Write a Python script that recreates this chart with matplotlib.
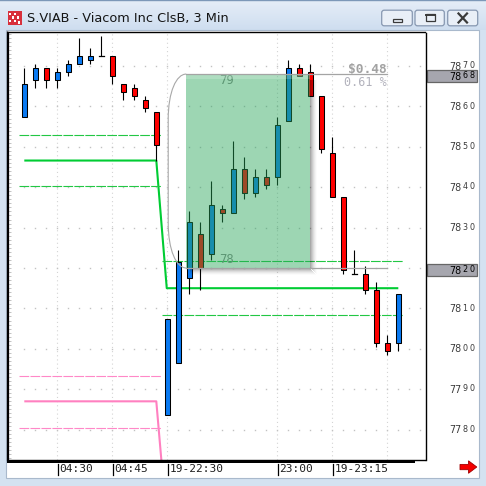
import matplotlib
matplotlib.use("Agg")
import matplotlib.pyplot as plt
import matplotlib.transforms as mtransforms
from matplotlib.patches import Rectangle, FancyBboxPatch, Polygon, PathPatch
from matplotlib.path import Path
import numpy as np

plt.rcParams["lines.scale_dashes"] = False

# ---------------------------------------------------------------- data
title = "S.VIAB - Viacom Inc ClsB, 3 Min"

# 3-minute bars (prices in cents)
opens  = [7857.5, 7866.5, 7869.5, 7866.5, 7868.5, 7870.5, 7871.5, 7872.5, 7872.5, 7865.5,
          7864.5, 7861.5, 7858.5, 7783.5, 7796.5, 7817.5, 7828.5, 7823.5, 7834.5, 7833.5,
          7844.5, 7838.5, 7842.5, 7842.5, 7856.5, 7869.5, 7868.5, 7862.5, 7848.5, 7837.5,
          7818.5, 7818.5, 7814.5, 7801.5, 7801.5]
highs  = [7869.5, 7870.5, 7869.5, 7869.5, 7871.5, 7877.0, 7874.5, 7877.5, 7872.5, 7865.5,
          7865.5, 7862.5, 7858.5, 7807.5, 7824.5, 7834.0, 7831.5, 7841.5, 7835.5, 7851.5,
          7847.5, 7844.5, 7844.5, 7857.5, 7871.5, 7870.5, 7870.5, 7862.5, 7852.5, 7837.5,
          7824.5, 7820.5, 7816.5, 7803.5, 7813.5]
lows   = [7857.5, 7864.5, 7864.5, 7864.5, 7867.5, 7870.5, 7870.5, 7872.5, 7865.5, 7861.5,
          7861.5, 7858.5, 7846.5, 7783.5, 7796.5, 7813.5, 7814.5, 7822.0, 7831.5, 7833.5,
          7837.0, 7837.5, 7839.5, 7840.5, 7856.5, 7867.5, 7862.5, 7848.5, 7837.5, 7818.5,
          7818.5, 7813.5, 7800.5, 7798.5, 7799.5]
closes = [7865.5, 7869.5, 7866.5, 7868.5, 7870.5, 7872.5, 7872.5, 7872.5, 7867.5, 7863.5,
          7862.5, 7859.5, 7850.5, 7807.5, 7821.5, 7831.5, 7820.0, 7835.5, 7833.5, 7844.5,
          7838.5, 7842.5, 7840.5, 7855.5, 7869.5, 7867.5, 7862.5, 7849.5, 7837.5, 7819.5,
          7818.5, 7814.5, 7801.5, 7799.5, 7813.5]

time_labels    = ["04:30", "04:45", "19-22:30", "23:00", "19-23:15"]
time_label_idx = [3, 8, 13, 23, 28]
vgrid_idx      = [3, 8, 13, 23, 28, 33]
price_levels   = list(range(7780, 7871, 10))

# session reference bands: [previous session, current session]
green_mid = [7846.6, 7815.0]
green_up  = [7853.0, 7821.7]
green_dn  = [7840.3, 7808.3]
pink_mid  = [7787.0, 7757.0]
pink_up   = [7793.2, 7763.0]
pink_dn   = [7780.4, 7750.0]

# price-range measurement
measure_low, measure_high = 7820, 7868
measure_x0, measure_x1, measure_line_end = 14.72, 26.0, 32.97
measure_tags = ["79", "78"]

# ---------------------------------------------------------------- layout
W = H = 486
DPI = 100
BAR_PX = 11.0          # pixels per bar
X0_PX = 24.3           # pixel x of bar 0
PRICE_PX = 4.04        # pixels per cent
P_REF, P_REF_Y = 7800, 348.8

PL, PT, PR, PB = 7.5, 32.5, 425.5, 459.5   # plot box in pixels


def idx_of(px):
    return (px - X0_PX) / BAR_PX


def price_of(py):
    return P_REF + (P_REF_Y - py) / PRICE_PX


DX = 1.0 / BAR_PX
DY = 1.0 / PRICE_PX

fig = plt.figure(figsize=(W / DPI, H / DPI), dpi=DPI)
fig.patch.set_facecolor("#d4e2f1")

bg = fig.add_axes([0, 0, 1, 1], zorder=0)
bg.set_xlim(0, W)
bg.set_ylim(H, 0)
bg.axis("off")

# title bar
grad = np.linspace(0, 1, 30).reshape(-1, 1)
top_c = np.array([0.90, 0.93, 0.97])
bot_c = np.array([0.81, 0.87, 0.94])
img = top_c[None, None, :] * (1 - grad[:, :, None]) + bot_c[None, None, :] * grad[:, :, None]
bg.imshow(img, extent=[0, W, 30, 0], aspect="auto", zorder=0)
bg.plot([0, W], [0.5, 0.5], color="#7d98b8", lw=1.0, zorder=1)
bg.text(27, 18.5, title, fontsize=9.3, family="DejaVu Sans", color="#151515",
        va="center", ha="left", zorder=2)

# window icon
bg.add_patch(Rectangle((7.5, 11), 14, 14, fc="#d8303c", ec="none", zorder=2))
for (cx, cy) in [(9, 13), (14, 13), (11.5, 16.5), (16.5, 16.5), (9, 20), (14, 20), (18, 21.5)]:
    bg.add_patch(Rectangle((cx, cy), 2.2, 2.2, fc="#ffffff", ec="none", zorder=3))

# window buttons
for (x0, x1) in [(381.7, 412.3), (415.0, 444.3), (447.7, 477.7)]:
    bg.add_patch(FancyBboxPatch((x0, 10.2), x1 - x0, 15.6,
                                boxstyle="round,pad=0,rounding_size=2.5",
                                fc="#e9eff7", ec="#8798b1", lw=0.9, zorder=2))
bg.add_patch(Rectangle((392.5, 19.5), 9, 2.5, fc="none", ec="#3a3a3a", lw=0.9, zorder=3))
bg.add_patch(Rectangle((425.5, 14.0), 9, 7.5, fc="none", ec="#3a3a3a", lw=0.9, zorder=3))
bg.plot([425.5, 434.5], [15.0, 15.0], color="#3a3a3a", lw=1.4, zorder=3)
bg.plot([458.5, 467], [13.5, 22.5], color="#3a3a3a", lw=1.6, zorder=3)
bg.plot([458.5, 467], [22.5, 13.5], color="#3a3a3a", lw=1.6, zorder=3)

# white chart panel
bg.add_patch(Rectangle((6.0, 30.5), 472.5, 447.0, fc="#ffffff", ec="#a9b9cc", lw=0.8, zorder=1))
bg.plot([6.5, 6.5], [31, 460], color="#8a8a8a", lw=0.8, zorder=2)

# position bar under the plot
bg.add_patch(Rectangle((7.3, PB), 415 - 7.3, 3.0, fc="#000000", ec="none", zorder=2))
bg.add_patch(Rectangle((7.3, PB), 161 - 7.3, 1.9, fc="#0a24e8", ec="none", zorder=3))

# scroll arrow
bg.add_patch(Polygon([(460, 464.4), (468.5, 464.4), (468.5, 460.8), (476.8, 467.0),
                      (468.5, 473.3), (468.5, 469.7), (460, 469.7)], closed=True,
                     fc="#f40000", ec="#a00000", lw=0.6, zorder=3))

# ---------------------------------------------------------------- main axes
ax = fig.add_axes([PL / W, 1 - PB / H, (PR - PL) / W, (PB - PT) / H], zorder=1)
ax.set_facecolor("#ffffff")
ax.set_xlim(idx_of(PL), idx_of(PR))
ax.set_ylim(price_of(PB), price_of(PT))
for side, lw in [("left", 1.6), ("top", 1.0), ("right", 1.0), ("bottom", 1.0)]:
    ax.spines[side].set_linewidth(lw)
    ax.spines[side].set_color("#000000")
ax.set_xticks([])
ax.set_yticks([])
ax.set_yticks(np.arange(7773, 7879, 1), minor=True)
ax.tick_params(axis="y", which="minor", direction="in", length=2.2, width=0.6,
               color="#b8b8b8", left=True, right=False, labelleft=False)

n = len(opens)
lo_y, hi_y = ax.get_ylim()

# grid: dotted verticals at time marks, dot rows at price levels
ax.vlines(vgrid_idx, lo_y, hi_y, colors="#d4d4d4", lw=0.8,
          linestyles=(0, (0.8, 2.2)), zorder=1)
gx = np.arange(0, 37)
for lvl in price_levels:
    ax.plot(gx, np.full(gx.shape, lvl), "s", ms=1.0, mew=0, color="#c2c2c2", zorder=1)

# reference bands
brk = time_label_idx[2]
x_solid = [0, brk - 1, brk - 0.05, n - 1]
ax.plot(x_solid, [green_mid[0], green_mid[0], green_mid[1], green_mid[1]],
        color="#00cc33", lw=1.5, zorder=2, solid_capstyle="butt")
ax.plot(x_solid, [pink_mid[0], pink_mid[0], pink_mid[1], pink_mid[1]],
        color="#ff80c0", lw=1.5, zorder=2, solid_capstyle="butt")
dash = (0, (7.0, 0.9))
for vals, col in [(green_up, "#22c744"), (green_dn, "#22c744"),
                  (pink_up, "#ff88c8"), (pink_dn, "#ff88c8")]:
    ax.plot([-0.45, brk - 0.55], [vals[0], vals[0]], color=col, lw=0.8,
            linestyle=dash, zorder=2)
    ax.plot([brk - 0.45, n - 0.6], [vals[1], vals[1]], color=col, lw=0.8,
            linestyle=dash, zorder=2)

# candles
bw = 0.44
for i, (o, h, l, c) in enumerate(zip(opens, highs, lows, closes)):
    ax.plot([i, i], [l, h], color="#000000", lw=0.8, zorder=3, solid_capstyle="butt")
    if o == c:
        ax.plot([i - bw / 2, i + bw / 2], [o, o], color="#000000", lw=0.9, zorder=4)
        continue
    col = "#0a7af2" if c > o else "#ff0000"
    ax.add_patch(Rectangle((i - bw / 2, min(o, c)), bw, abs(c - o), fc=col,
                           ec="#000000", lw=0.75, zorder=4))

# measurement box
bx0, bx1 = measure_x0, measure_x1
for j in range(7):
    a = 0.34 * (1 - j / 7.0) ** 1.6
    ax.add_patch(Rectangle((bx1 + j * DX, measure_low - j * DY), DX,
                           (measure_high - 6 * DY) - (measure_low - j * DY),
                           fc="#000000", ec="none", alpha=a, zorder=5))
    ax.add_patch(Rectangle((bx0 + 4 * DX, measure_low - (j + 1) * DY),
                           (bx1 + j * DX) - (bx0 + 4 * DX), DY,
                           fc="#000000", ec="none", alpha=a, zorder=5))

ax.text(bx0 + 40 * DX, measure_high - 6.2 * DY, measure_tags[0], fontsize=8.8,
        family="DejaVu Sans Mono", color="#8a8a8a", ha="center", va="center", zorder=4.5)
ax.text(bx0 + 40 * DX, measure_low + 8.2 * DY, measure_tags[1], fontsize=8.8,
        family="DejaVu Sans Mono", color="#8a8a8a", ha="center", va="center", zorder=4.5)

ax.add_patch(Rectangle((bx0, measure_low), bx1 - bx0, measure_high - measure_low,
                       fc=(38 / 255, 165 / 255, 88 / 255), alpha=0.45, ec="none", zorder=5.5))
# soft light rim along the top edge
ax.add_patch(Rectangle((bx0, measure_high - 5 * DY), bx1 - bx0, 5 * DY,
                       fc="#ffffff", alpha=0.18, ec="none", zorder=5.6))

for lvl in (measure_high, measure_low):
    ax.plot([bx0, measure_line_end], [lvl, lvl], color="#a4a4a4", lw=0.9, zorder=6)

verts = [(bx0, measure_high),
         (bx0 - 10 * DX, measure_high), (bx0 - 18 * DX, measure_high - 18 * DY),
         (bx0 - 18 * DX, measure_high - 45 * DY),
         (bx0 - 18 * DX, measure_low + 45 * DY),
         (bx0 - 18 * DX, measure_low + 18 * DY), (bx0 - 10 * DX, measure_low),
         (bx0, measure_low)]
codes = [Path.MOVETO, Path.CURVE4, Path.CURVE4, Path.CURVE4, Path.LINETO,
         Path.CURVE4, Path.CURVE4, Path.CURVE4]
ax.add_patch(PathPatch(Path(verts, codes), fc="none", ec="#a8a8a8", lw=0.8, zorder=6))

diff = (measure_high - measure_low) / 100.0
pct = (measure_high - measure_low) / measure_low * 100.0
ax.text(measure_line_end - 0.2 * DX, measure_high + 4.3 * DY, f"${diff:.2f}",
        fontsize=9.3, family="DejaVu Sans Mono", fontweight="bold", color="#a2a2a2",
        ha="right", va="center", zorder=7)
ax.text(measure_line_end, measure_high - 8.0 * DY, f"{pct:.2f} %",
        fontsize=8.5, family="DejaVu Sans Mono", color="#b2b2bc",
        ha="right", va="center", zorder=7)

# ---------------------------------------------------------------- price scale
tr_price = mtransforms.blended_transform_factory(bg.transData, ax.transData)


def price_label(p, color, z, shift=0.0):
    s = str(p)
    bg.text(461.5, p - (3.5 + shift) * DY, s[:2], fontsize=6.9, family="DejaVu Sans",
            color=color, ha="right", va="baseline", transform=tr_price, zorder=z)
    bg.text(464.8, p - (2.2 + shift) * DY, s[2], fontsize=5.8, family="DejaVu Sans",
            color=color, ha="center", va="baseline", transform=tr_price, zorder=z)
    bg.text(472.0, p - (2.2 + shift) * DY, s[3], fontsize=5.8, family="DejaVu Sans",
            color=color, ha="center", va="baseline", transform=tr_price, zorder=z)


highlighted = (measure_high, measure_low)
for p in price_levels:
    if p not in highlighted:
        price_label(p, "#3a3a3a", 3)

for p in highlighted:
    bg.add_patch(Rectangle((426.7, p - 8.0 * DY), 50.6, 12.4 * DY, fc="#a6a6ae",
                           ec="#666666", lw=0.9, transform=tr_price, zorder=4))
    price_label(p, "#000000", 5, shift=2.0)

# ---------------------------------------------------------------- time scale
tr_time = mtransforms.blended_transform_factory(ax.transData, bg.transData)
for i, lab in zip(time_label_idx, time_labels):
    xi = i + 0.04
    bg.plot([xi, xi], [463.5, 474.5], color="#000000", lw=0.9, transform=tr_time, zorder=3)
    bg.text(xi + 1.6 * DX, 469.3, lab, fontsize=8, family="DejaVu Sans Mono",
            color="#1e1e1e", ha="left", va="center", transform=tr_time, zorder=3)

fig.savefig("out.png", dpi=DPI, facecolor=fig.get_facecolor())
